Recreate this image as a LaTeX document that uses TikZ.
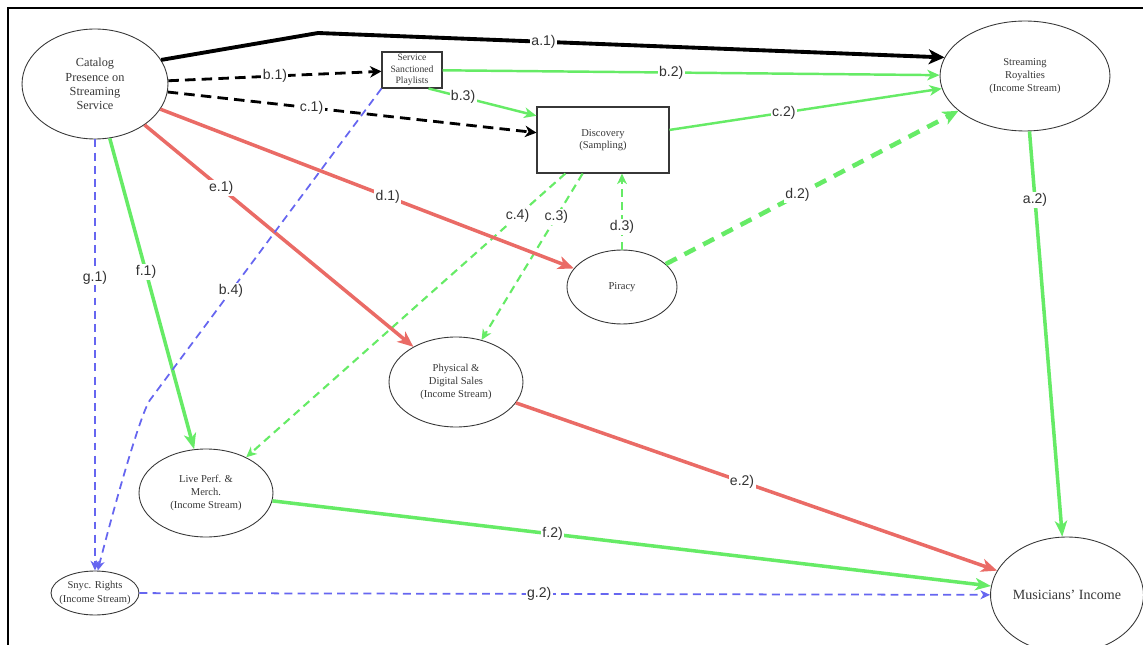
\documentclass[tikz,border=0pt]{standalone}
\usepackage{fontspec}
\setmainfont{Liberation Serif}
\setsansfont{Liberation Sans}
\usepackage{tikz}
\usetikzlibrary{shapes.geometric,arrows.meta,positioning}
\definecolor{flowGreen}{RGB}{102,235,102}
\definecolor{flowRed}{RGB}{234,107,102}
\definecolor{flowBlue}{RGB}{102,102,240}
\definecolor{boxGray}{RGB}{55,55,55}

\begin{document}
\begin{tikzpicture}[x=0.02cm, y=-0.02cm,
        oval/.style={draw=boxGray, ellipse, line width=0.5pt, inner sep=0pt,
          align=center, text=boxGray, font=\fontsize{6}{7.5}\selectfont},
        rect/.style={draw=boxGray, rectangle, line width=0.6pt, inner sep=0pt,
          align=center, text=boxGray, font=\fontsize{6}{7.2}\selectfont},
        lbl/.style={fill=white, inner sep=0.8pt, text=black!80,
          font=\sffamily\fontsize{8}{9}\selectfont},
        solidblack/.style={line width=2.2pt, -{Stealth[length=9pt,width=8.5pt,inset=2.5pt]}},
        dashblack/.style={line width=1.6pt, dash pattern=on 6pt off 3.5pt,
          -{Stealth[length=6.5pt,width=6.5pt,inset=2pt]}},
        redarrow/.style={flowRed, line width=2pt, -{Stealth[length=9pt,width=7.5pt,inset=2.5pt]}},
        greenarrow/.style={flowGreen, line width=2pt, -{Stealth[length=9pt,width=7pt,inset=2.5pt]}},
        greenthin/.style={flowGreen, line width=1.4pt, -{Stealth[length=7pt,width=6pt,inset=2pt]}},
        greendash/.style={flowGreen, line width=1.2pt, dash pattern=on 4.5pt off 3pt,
          -{Stealth[length=6pt,width=5.5pt,inset=1.8pt]}},
        greendashbold/.style={flowGreen, line width=2.6pt, dash pattern=on 7pt off 5pt,
          -{Stealth[length=9pt,width=8pt,inset=2.5pt]}},
        bluedash/.style={flowBlue, line width=1pt, dash pattern=on 4.5pt off 3pt,
          -{Stealth[length=5.5pt,width=5pt,inset=1.6pt]}}
      ]
        \useasboundingbox (0,0) rectangle (1143,645);
        \draw[line width=1.1pt] (8,645) -- (8,8) -- (1143,8);

        \node[oval, minimum width=2.92cm, minimum height=2.2cm,
          font=\fontsize{7}{8.2}\selectfont] (catalog) at (95,84)
          {Catalog\\Presence on\\Streaming\\Service};
        \node[rect, minimum width=1.2cm, minimum height=0.72cm,
          font=\fontsize{5.5}{6.4}\selectfont] (playlists) at (412,70)
          {Service\\Sanctioned\\Playlists};
        \node[rect, minimum width=2.64cm, minimum height=1.32cm] (discovery) at (603,140)
          {Discovery\\(Sampling)};
        \node[oval, minimum width=3.4cm, minimum height=2.2cm] (royalties) at (1025,76)
          {Streaming\\Royalties\\(Income Stream)};
        \node[oval, minimum width=2.2cm, minimum height=1.48cm] (piracy) at (622,287) {Piracy};
        \node[oval, minimum width=2.68cm, minimum height=1.8cm] (sales) at (456,382)
          {Physical \&\\Digital Sales\\(Income Stream)};
        \node[oval, minimum width=2.68cm, minimum height=1.76cm] (live) at (206,493)
          {Live Perf. \&\\Merch.\\(Income Stream)};
        \node[oval, minimum width=1.76cm, minimum height=0.88cm, inner xsep=-3pt] (sync) at (95,593)
          {Snyc. Rights\\(Income Stream)};
        \node[oval, minimum width=2.96cm, minimum height=2.32cm,
          font=\fontsize{8}{9.6}\selectfont] (income) at (1067,595) {Musicians’ Income};

        \coordinate (a1bend) at (318,33);
        \coordinate (b4bend) at (150,400);

        \draw[solidblack] (catalog.20) -- (a1bend) -- node[lbl, pos=0.36] (la1) {a.1)} (royalties.167);
        \draw[dashblack] (catalog) -- node[lbl] (lb1) {b.1)} (playlists);
        \draw[dashblack] (catalog) -- node[lbl, pos=0.39] (lc1) {c.1)} (discovery);
        \draw[greenthin] (playlists) -- node[lbl, pos=0.46] (lb2) {b.2)} (royalties);
        \draw[greenthin] ([xshift=-0.28cm]playlists.south east) -- node[lbl, pos=0.32] (lb3) {b.3)} (discovery.160);
        \draw[greenthin] (discovery) -- node[lbl, pos=0.42] (lc2) {c.2)} (royalties);
        \draw[greendashbold] (piracy) -- node[lbl, pos=0.45] (ld2) {d.2)} (royalties);
        \draw[greendash] (piracy.north) -- node[lbl, pos=0.3] (ld3) {d.3)} (piracy.north |- discovery.south);
        \draw[greendash] (discovery) -- node[lbl, pos=0.26] (lc3) {c.3)} (sales);
        \draw[greendash] (discovery) -- node[lbl, pos=0.15] (lc4) {c.4)} (live);
        \draw[redarrow] (catalog) -- node[lbl, pos=0.55] (ld1) {d.1)} (piracy);
        \draw[redarrow] (catalog) -- node[lbl, pos=0.285] (le1) {e.1)} (sales);
        \draw[redarrow] (sales) -- node[lbl, pos=0.47] (le2) {e.2)} (income);
        \draw[greenarrow] (catalog) -- node[lbl, pos=0.43] (lf1) {f.1)} (live);
        \draw[greenarrow] (live) -- node[lbl, pos=0.39] (lf2) {f.2)} (income);
        \draw[greenarrow] (royalties) -- node[lbl, pos=0.17] (la2) {a.2)} (income);
        \draw[bluedash] (catalog) -- node[lbl, pos=0.32] (lg1) {g.1)} (sync);
        \draw[bluedash] (sync) -- node[lbl, pos=0.47] (lg2) {g.2)} (income);
        \draw[bluedash] (playlists.south west) -- node[lbl, pos=0.65] (lb4) {b.4)} (b4bend)
          .. controls +(-10,14) and +(14,-55) .. (sync.83);
      \end{tikzpicture}
\end{document}
